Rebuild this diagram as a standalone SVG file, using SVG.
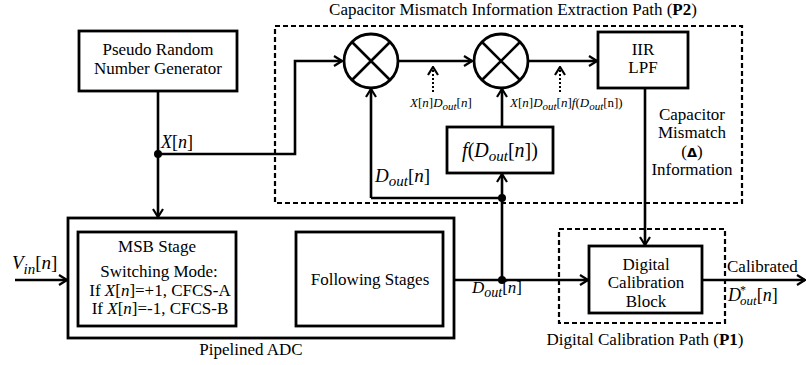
<svg xmlns="http://www.w3.org/2000/svg" width="806" height="365" viewBox="0 0 806 365" font-family="'Liberation Serif', 'Times New Roman', Tinos, 'DejaVu Serif', serif">
  <style>
    text { font-family: "Liberation Serif", "Times New Roman", Tinos, "DejaVu Serif", serif; fill: #000; }
    .t { font-size: 17px; }
    .m { text-anchor: middle; }
    .i { font-style: italic; }
    .box { fill: #fff; stroke: #000; stroke-width: 2.8; }
    .dash { fill: none; stroke: #000; stroke-width: 2.2; stroke-dasharray: 5 3; }
    .wire { fill: none; stroke: #000; stroke-width: 2.6; }
    .dot { fill: #000; }
  </style>
  <defs>
    <marker id="chev" viewBox="0 0 10 12" refX="9" refY="6" markerWidth="10" markerHeight="12" markerUnits="userSpaceOnUse" orient="auto">
      <path d="M1,1 L9,6 L1,11" fill="none" stroke="#000" stroke-width="2.2"/>
    </marker>
    <marker id="tri" viewBox="0 0 12 10" refX="12" refY="5" markerWidth="14" markerHeight="11" markerUnits="userSpaceOnUse" orient="auto">
      <path d="M0,0 L12,5 L0,10 Z" fill="#000"/>
    </marker>
  </defs>

  <!-- dashed path regions -->
  <g id="p2-region">
    <rect class="dash" x="275" y="26" width="467" height="177"/>
    <text class="t m" x="513" y="15">Capacitor Mismatch Information Extraction Path (<tspan font-weight="bold">P2</tspan>)</text>
  </g>
  <g id="p1-region">
    <rect class="dash" x="559" y="229" width="166" height="94"/>
    <text class="t m" x="645" y="345">Digital Calibration Path (<tspan font-weight="bold">P1</tspan>)</text>
  </g>

  <!-- connectors -->
  <g id="connectors">
    <path class="wire" d="M158,91 V217" marker-end="url(#chev)"/>
    <path class="wire" d="M158,154 H295 V61 H342" marker-end="url(#chev)"/>
    <path class="wire" d="M398,61 H472" marker-end="url(#chev)"/>
    <path class="wire" d="M528,61 H597" marker-end="url(#chev)"/>
    <path class="wire" d="M371,198 V89" marker-end="url(#chev)"/>
    <path class="wire" d="M371,198 H502"/>
    <path class="wire" d="M502,280 V174" marker-end="url(#chev)"/>
    <path class="wire" d="M502,127 V89" marker-end="url(#chev)"/>
    <path class="wire" d="M645,88 V245" marker-end="url(#chev)"/>
    <path class="wire" d="M15,280 H67" marker-end="url(#chev)"/>
    <path class="wire" d="M454,280 H588" marker-end="url(#chev)"/>
    <path class="wire" d="M702,280 H805" marker-end="url(#chev)"/>
    <path fill="none" stroke="#000" stroke-width="3.5" d="M236,280 H295" marker-end="url(#tri)"/>
    <path fill="none" stroke="#000" stroke-width="2" stroke-dasharray="2 2" d="M433,92 V67" marker-end="url(#chev)"/>
    <path fill="none" stroke="#000" stroke-width="2" stroke-dasharray="2 2" d="M560,92 V67" marker-end="url(#chev)"/>
    <circle class="dot" cx="158" cy="154" r="4"/>
    <circle class="dot" cx="502" cy="198" r="4"/>
    <circle class="dot" cx="502" cy="280" r="4"/>
  </g>

  <!-- signal labels -->
  <g id="labels">
    <text x="161" y="148" font-size="18"><tspan class="i">X</tspan>[<tspan class="i">n</tspan>]</text>
    <text x="410" y="107" font-size="13"><tspan class="i">X</tspan>[<tspan class="i">n</tspan>]<tspan class="i">D</tspan><tspan class="i" font-size="11" dy="3">out</tspan><tspan dy="-3">[</tspan><tspan class="i">n</tspan>]</text>
    <text x="510" y="107" font-size="13"><tspan class="i">X</tspan>[<tspan class="i">n</tspan>]<tspan class="i">D</tspan><tspan class="i" font-size="11" dy="3">out</tspan><tspan dy="-3">[</tspan><tspan class="i">n</tspan>]<tspan class="i">f</tspan>(<tspan class="i">D</tspan><tspan class="i" font-size="11" dy="3">out</tspan><tspan dy="-3">[n])</tspan></text>
    <text x="375" y="182" font-size="19"><tspan class="i">D</tspan><tspan class="i" font-size="15" dy="4">out</tspan><tspan dy="-4">[</tspan><tspan class="i">n</tspan>]</text>
    <text x="472" y="293" font-size="17"><tspan class="i">D</tspan><tspan class="i" font-size="14" dy="4">out</tspan><tspan dy="-4">[</tspan><tspan class="i">n</tspan>]</text>
    <text x="12" y="269" font-size="19"><tspan class="i">V</tspan><tspan class="i" font-size="15" dy="5">in</tspan><tspan dy="-5">[</tspan><tspan class="i">n</tspan>]</text>
    <text x="237" y="265" font-size="18"><tspan class="i">V</tspan><tspan class="i" font-size="9" dy="2">RES</tspan><tspan dy="-2">[</tspan><tspan class="i">n</tspan>]</text>
    <text x="254" y="301" font-size="19"><tspan class="i">d</tspan><tspan font-size="14" dy="4">1</tspan></text>
    <text class="t" x="727" y="272">Calibrated</text>
    <text x="728" y="301" font-size="18"><tspan class="i">D</tspan><tspan font-size="12" dx="-1" dy="-7">*</tspan><tspan class="i" font-size="13" dx="-6" dy="11">out</tspan><tspan dy="-4">[</tspan><tspan class="i">n</tspan>]</text>
    <text class="m" x="692" y="120" font-size="17">Capacitor</text>
    <text class="m" x="692" y="138" font-size="17">Mismatch</text>
    <text class="m" x="692" y="157" font-size="17">(<tspan font-family="DejaVu Sans" font-weight="bold" font-size="13">Δ</tspan>)</text>
    <text class="m" x="692" y="175" font-size="17">Information</text>
  </g>

  <!-- nodes -->
  <g id="prng">
    <rect class="box" x="79" y="31" width="158" height="60"/>
    <text class="t m" x="158" y="55">Pseudo Random</text>
    <text class="t m" x="158" y="74">Number Generator</text>
  </g>
  <g id="mixer1">
    <circle class="box" cx="371" cy="61" r="27"/>
    <path class="wire" d="M352,42 L390,80 M390,42 L352,80"/>
  </g>
  <g id="mixer2">
    <circle class="box" cx="501" cy="61" r="27"/>
    <path class="wire" d="M482,42 L520,80 M520,42 L482,80"/>
  </g>
  <g id="iir-lpf">
    <rect class="box" x="598" y="32" width="90" height="56"/>
    <text class="t m" x="643" y="55">IIR</text>
    <text class="t m" x="643" y="73">LPF</text>
  </g>
  <g id="f-dout">
    <rect class="box" x="447" y="127" width="106" height="46"/>
    <text x="500" y="157" font-size="20" text-anchor="middle"><tspan class="i">f</tspan>(<tspan class="i">D</tspan><tspan class="i" font-size="15" dy="4">out</tspan><tspan dy="-4">[</tspan><tspan class="i">n</tspan>])</text>
  </g>
  <g id="pipelined-adc">
    <rect class="box" x="68" y="218" width="386" height="120"/>
    <text class="t m" x="251" y="355">Pipelined ADC</text>
  </g>
  <g id="msb-stage">
    <rect class="box" x="78" y="232" width="158" height="94"/>
    <text class="t m" x="157" y="252">MSB Stage</text>
    <text class="t m" x="159" y="277">Switching Mode:</text>
    <text class="t m" x="160" y="296">If <tspan class="i">X</tspan>[<tspan class="i">n</tspan>]=+1, CFCS-A</text>
    <text class="t m" x="160" y="314">If <tspan class="i">X</tspan>[<tspan class="i">n</tspan>]=-1, CFCS-B</text>
  </g>
  <g id="following-stages">
    <rect class="box" x="296" y="232" width="147" height="94"/>
    <text class="t m" x="370" y="285">Following Stages</text>
  </g>
  <g id="digital-calibration">
    <rect class="box" x="589" y="246" width="113" height="67"/>
    <text class="t m" x="646" y="270">Digital</text>
    <text class="t m" x="646" y="288">Calibration</text>
    <text class="t m" x="646" y="307">Block</text>
  </g>
</svg>
